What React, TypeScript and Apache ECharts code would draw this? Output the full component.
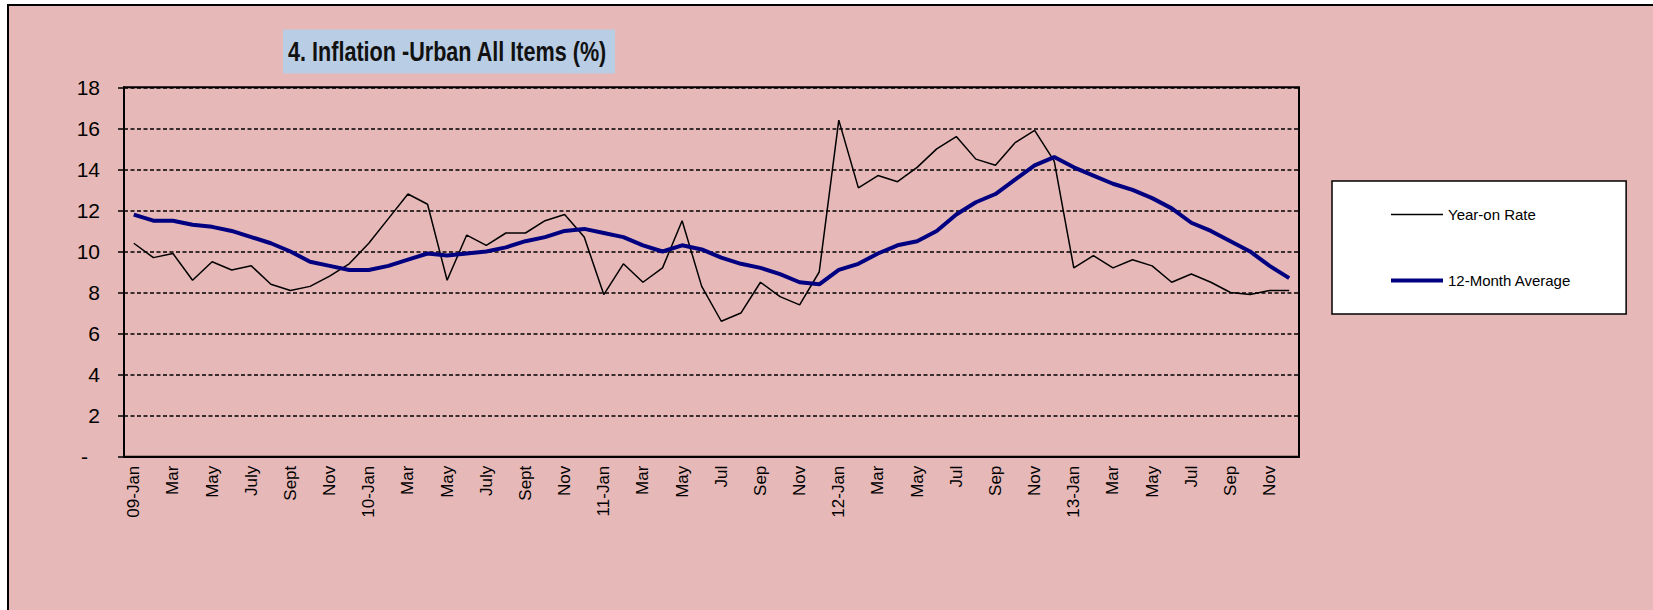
import React, { useEffect, useRef } from "react";
import * as echarts from "echarts";

const months: string[] = [
  "09-Jan", "Feb", "Mar", "Apr", "May", "Jun", "July", "Aug", "Sept", "Oct", "Nov", "Dec",
  "10-Jan", "Feb", "Mar", "Apr", "May", "Jun", "July", "Aug", "Sept", "Oct", "Nov", "Dec",
  "11-Jan", "Feb", "Mar", "Apr", "May", "Jun", "Jul", "Aug", "Sep", "Oct", "Nov", "Dec",
  "12-Jan", "Feb", "Mar", "Apr", "May", "Jun", "Jul", "Aug", "Sep", "Oct", "Nov", "Dec",
  "13-Jan", "Feb", "Mar", "Apr", "May", "Jun", "Jul", "Aug", "Sep", "Oct", "Nov", "Dec",
];

const yearOnRate: number[] = [
  10.4, 9.7, 9.9, 8.6, 9.5, 9.1, 9.3, 8.4, 8.1, 8.3, 8.8, 9.4,
  10.4, 11.6, 12.8, 12.3, 8.6, 10.8, 10.3, 10.9, 10.9, 11.5, 11.8, 10.7,
  7.9, 9.4, 8.5, 9.2, 11.5, 8.3, 6.6, 7.0, 8.5, 7.8, 7.4, 9.0,
  16.4, 13.1, 13.7, 13.4, 14.1, 15.0, 15.6, 14.5, 14.2, 15.3, 15.9, 14.4,
  9.2, 9.8, 9.2, 9.6, 9.3, 8.5, 8.9, 8.5, 8.0, 7.9, 8.1, 8.1,
];

const twelveMonthAvg: number[] = [
  11.8, 11.5, 11.5, 11.3, 11.2, 11.0, 10.7, 10.4, 10.0, 9.5, 9.3, 9.1,
  9.1, 9.3, 9.6, 9.9, 9.8, 9.9, 10.0, 10.2, 10.5, 10.7, 11.0, 11.1,
  10.9, 10.7, 10.3, 10.0, 10.3, 10.1, 9.7, 9.4, 9.2, 8.9, 8.5, 8.4,
  9.1, 9.4, 9.9, 10.3, 10.5, 11.0, 11.8, 12.4, 12.8, 13.5, 14.2, 14.6,
  14.1, 13.7, 13.3, 13.0, 12.6, 12.1, 11.4, 11.0, 10.5, 10.0, 9.3, 8.7,
];

const seriesNames: string[] = ["Year-on Rate", "12-Month Average"];
const titleText = "4. Inflation -Urban All Items (%)";
const FONT = "'Liberation Sans', Arial, sans-serif";

export default function App() {
  const ref = useRef<HTMLDivElement>(null);
  useEffect(() => {
    if (!ref.current) return;
    const chart = echarts.init(ref.current, null, { renderer: "svg" });
    chart.setOption({
      animation: false,
      backgroundColor: "#ffffff",
      textStyle: { fontFamily: FONT },
      graphic: [
        {
          type: "rect",
          z: -100,
          silent: true,
          shape: { x: 8, y: 5, width: 1700, height: 700 },
          style: { fill: "#E6B8B7", stroke: "#000000", lineWidth: 2 },
        },
        {
          type: "rect",
          z: -50,
          silent: true,
          shape: { x: 283, y: 29.5, width: 332, height: 44 },
          style: { fill: "#B9CDE5" },
        },
        {
          type: "text",
          z: 10,
          silent: true,
          x: 288,
          y: 52,
          scaleX: 0.8,
          style: {
            text: titleText,
            fontFamily: FONT,
            fontWeight: "bold",
            fontSize: 27,
            fill: "#111111",
            align: "left",
            verticalAlign: "middle",
          },
        },
      ],
      legend: {
        orient: "vertical",
        left: 1332,
        top: 181,
        backgroundColor: "#ffffff",
        borderColor: "#000000",
        borderWidth: 1.5,
        padding: [26, 55, 26, 57],
        itemWidth: 52,
        itemHeight: 14,
        itemGap: 51,
        textStyle: { fontSize: 15, color: "#000000", fontFamily: FONT },
        data: [
          {
            name: seriesNames[0],
            itemStyle: { opacity: 0 },
            lineStyle: { width: 1.5, color: "#000000" },
          },
          {
            name: seriesNames[1],
            itemStyle: { opacity: 0 },
            lineStyle: { width: 4, color: "#000080" },
          },
        ],
      },
      grid: {
        left: 124,
        top: 87.3,
        width: 1175,
        height: 369.4,
        show: true,
        borderColor: "#000000",
        borderWidth: 2,
        backgroundColor: "transparent",
      },
      xAxis: {
        type: "category",
        data: months,
        boundaryGap: true,
        axisLine: { lineStyle: { color: "#000000", width: 2 } },
        axisTick: { interval: 2, length: 5, lineStyle: { color: "#000000", width: 1.5 } },
        axisLabel: { interval: 1, rotate: 90, fontSize: 17, color: "#000000", margin: 9 },
        splitLine: { show: false },
      },
      yAxis: {
        type: "value",
        min: 0,
        max: 18,
        interval: 2,
        axisLine: { show: true, lineStyle: { color: "#000000", width: 2 } },
        axisTick: { show: true, length: 6, lineStyle: { color: "#000000", width: 1.5 } },
        axisLabel: {
          fontSize: 21,
          margin: 24,
          color: "#000000",
          formatter: (v: number) => (v === 0 ? "{d|-}" : String(v)),
          rich: { d: { fontSize: 21, color: "#000000", padding: [0, 12, 0, 0] } },
        },
        splitLine: { lineStyle: { color: "#000000", type: [4, 2.5], width: 1.5 } },
      },
      series: [
        {
          name: seriesNames[0],
          type: "line",
          data: yearOnRate,
          symbol: "none",
          lineStyle: { color: "#000000", width: 1.5 },
          itemStyle: { color: "#000000" },
        },
        {
          name: seriesNames[1],
          type: "line",
          data: twelveMonthAvg,
          symbol: "none",
          lineStyle: { color: "#000080", width: 4 },
          itemStyle: { color: "#000080" },
        },
      ],
    });
    return () => chart.dispose();
  }, []);
  return (
    <div
      ref={ref}
      style={{ position: "absolute", left: 0, top: 0, width: 1653, height: 610 }}
    />
  );
}
